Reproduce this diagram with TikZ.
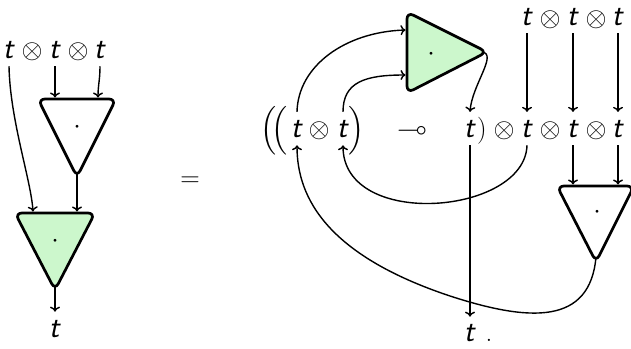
\RequirePackage{fix-cm}
\documentclass[tikz,border=0pt]{standalone}
\usepackage{amsmath}
\usepackage{amssymb}
\usepackage{fontspec}
\usetikzlibrary{arrows.meta}
\definecolor{tgreen}{RGB}{204,247,204}
\newcommand\tvar{\textsf{\textit{t}}}
\begin{document}
\begin{tikzpicture}[x=1pt,y=-1pt,
  every node/.style={inner sep=0pt},
  sym/.style={anchor=base,font=\fontsize{27}{31}\selectfont},
  tlbl/.style={anchor=base,font=\fontsize{31}{35}\selectfont},
  tt/.style={tlbl,outer ysep=8pt,outer xsep=0pt},
  wire/.style={line width=1.4pt,-{To[length=5pt,width=10pt]}},
  tri/.style={line width=2.7pt,rounded corners=7pt,line join=round},
  dotlbl/.style={anchor=base,font=\fontsize{27}{31}\selectfont}
]
\useasboundingbox (0,0) rectangle (631,348);

% ---------- left diagram ----------
\node[tt]  (a1)  at (9,58)  {\tvar};
\node[sym] (ao1) at (32,58) {$\otimes$};
\node[tt]  (a2)  at (55,58) {\tvar};
\node[sym] (ao2) at (78,58) {$\otimes$};
\node[tt]  (a3)  at (100,58) {\tvar};

\draw[tri,fill=white] (38,99) -- (116,99) -- (77,177) -- cycle;
\node[dotlbl] (wL) at (77,133) {$\cdot$};
\coordinate (wLin1) at (55,97.5);
\coordinate (wLin2) at (98,97.5);
\coordinate (wLout) at (77,172);

\draw[tri,fill=tgreen] (15,213) -- (95,213) -- (55,290) -- cycle;
\node[dotlbl] (gL) at (55,247) {$\cdot$};
\coordinate (gLin1) at (33,211.5);
\coordinate (gLin2) at (77,211.5);
\coordinate (gLout) at (55,285);

\node[tlbl] (aout) at (55,337) {\tvar};

\draw[wire] (a1.south) .. controls (10,120) and (31,180) .. (gLin1);
\draw[wire] (a2.south) -- (wLin1);
\draw[wire] (a3.south) .. controls (100,80) and (98,85) .. (wLin2);
\draw[wire] (wLout) -- (gLin2);
\draw[wire,shorten >=8pt] (gLout) -- (aout.north);

\node (eq) at (190,182) {\fontsize{27}{31}\selectfont$=$};

% ---------- right diagram ----------
\node[sym] (p1)  at (269,137) {$\Big($};
\node[sym] (p2)  at (280,137) {$\Big($};
\node[tt]  (b1)  at (297,137) {\tvar};
\node[sym] (bo1) at (319,137) {$\otimes$};
\node[tt]  (b2)  at (343,137) {\tvar};
\node[sym] (p3)  at (357,137) {$\Big)$};
\node[sym] (lol) at (412,137) {$\multimap$};
\node[tt]  (b3)  at (470,137) {\tvar};
\node[sym] (p4)  at (482,137) {$)$};
\node[sym] (bo2) at (504,137) {$\otimes$};
\node[tt]  (b4)  at (527,137) {\tvar};
\node[sym] (bo3) at (550,137) {$\otimes$};
\node[tt]  (b5)  at (573,137) {\tvar};
\node[sym] (bo4) at (596,137) {$\otimes$};
\node[tt]  (b6)  at (618,137) {\tvar};

\node[tt]  (c4)  at (527,25) {\tvar};
\node[sym] (co1) at (550,26) {$\otimes$};
\node[tt]  (c5)  at (573,25) {\tvar};
\node[sym] (co2) at (596,26) {$\otimes$};
\node[tt]  (c6)  at (618,25) {\tvar};

\node[tlbl] (d)  at (470,341) {\tvar};
\node[sym]  (dp) at (489,341) {.};

\draw[tri,fill=tgreen] (407,12) -- (487,52) -- (407,93) -- cycle;
\node[dotlbl] (gR) at (431,60) {$\cdot$};
\coordinate (gRin1) at (405.5,30);
\coordinate (gRin2) at (405.5,75);
\coordinate (gRout) at (482,52);

\draw[tri,fill=white] (557,186) -- (634,186) -- (596,262) -- cycle;
\node[dotlbl] (wR) at (597,218) {$\cdot$};
\coordinate (wRin1) at (573,184.5);
\coordinate (wRin2) at (618,184.5);
\coordinate (wRout) at (596,257);

\draw[wire] (b1.north) .. controls (298,66) and (345,32) .. (gRin1);
\draw[wire] (b2.north) .. controls (343,82) and (365,75) .. (gRin2);
\draw[wire] (gRout) .. controls (498,54) and (472,85) .. (b3.north);
\draw[wire] (c4.south) -- (b4.north);
\draw[wire] (c5.south) -- (b5.north);
\draw[wire] (c6.south) -- (b6.north);
\draw[wire] (b4.south) .. controls (525,215) and (343,230) .. (b2.south);
\draw[wire] (b5.south) -- (wRin1);
\draw[wire] (b6.south) -- (wRin2);
\draw[wire] (wRout) .. controls (590,325) and (530,322) .. (450,296)
            .. controls (330,256) and (297,200) .. (b1.south);
\draw[wire,shorten >=7pt] (b3.south) -- (d.north);
\end{tikzpicture}
\end{document}
